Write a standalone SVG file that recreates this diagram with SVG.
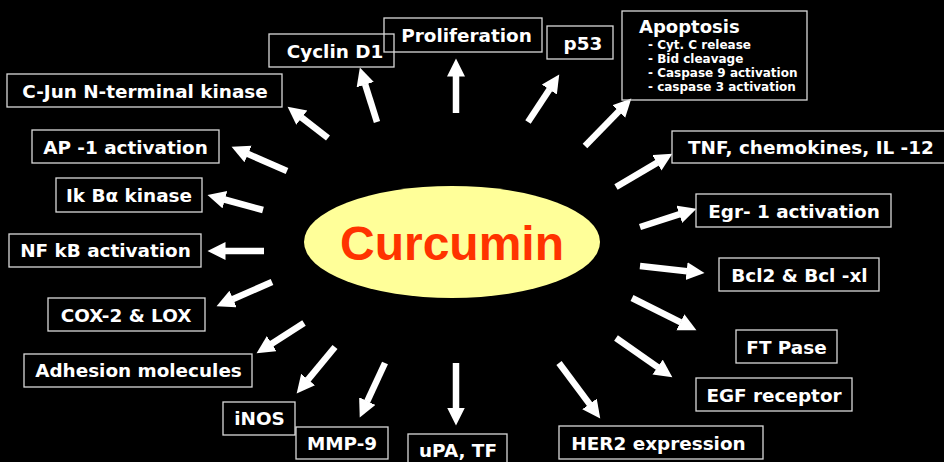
<svg xmlns="http://www.w3.org/2000/svg" width="944" height="462" viewBox="0 0 944 462">
<defs>
<style>
.box rect{fill:none;stroke:#d9d9d9;stroke-width:1.3}
.box text{font-family:"DejaVu Sans",Verdana,sans-serif;font-weight:bold;font-size:18.4px;fill:#ffffff;text-anchor:middle}
.box text.l{text-anchor:start}
.box text.s{font-size:12px;text-anchor:start}
.conn line{stroke:#ffffff;stroke-width:6.5;stroke-linecap:butt;marker-end:url(#ah)}
</style>
<marker id="ah" markerUnits="userSpaceOnUse" markerWidth="20" markerHeight="20" refX="0.5" refY="9" orient="auto">
<path d="M0,0 L18,9 L0,18 Z" fill="#ffffff"/>
</marker>
</defs>
<rect x="0" y="0" width="944" height="462" fill="#000000"/>

<g id="curcumin">
<ellipse cx="452" cy="242" rx="148" ry="56" fill="#ffff99"/>
<text x="452" y="260" font-family="'Liberation Sans',Arial,sans-serif" font-weight="bold" font-size="48" fill="#ff3300" text-anchor="middle">Curcumin</text>
</g>

<g class="conn" id="connectors">
<line x1="377" y1="122" x2="365.1" y2="84.2"/>
<line x1="456" y1="113" x2="456" y2="76"/>
<line x1="528" y1="122" x2="549.6" y2="89.2"/>
<line x1="585" y1="146" x2="619.1" y2="111.1"/>
<line x1="616" y1="187" x2="657.3" y2="162.6"/>
<line x1="640" y1="227" x2="679.8" y2="214.2"/>
<line x1="640" y1="266" x2="687.1" y2="271.2"/>
<line x1="632" y1="298" x2="680.8" y2="322.4"/>
<line x1="616" y1="338" x2="658" y2="367.3"/>
<line x1="559" y1="363" x2="589.8" y2="404.4"/>
<line x1="456" y1="363" x2="456" y2="408"/>
<line x1="385" y1="363" x2="367.1" y2="401.6"/>
<line x1="335" y1="347" x2="307.8" y2="379.9"/>
<line x1="304" y1="323" x2="271.3" y2="343.9"/>
<line x1="272" y1="282" x2="232.6" y2="299.2"/>
<line x1="264" y1="251" x2="225" y2="251"/>
<line x1="263" y1="210" x2="224.4" y2="199.5"/>
<line x1="287" y1="171" x2="247.6" y2="153.8"/>
<line x1="328" y1="138" x2="301.4" y2="117.4"/>
</g>

<g class="box" id="cyclin">
<rect x="269" y="34" width="125" height="33"/>
<text x="335" y="58">Cyclin D1</text>
</g>
<g class="box" id="proliferation">
<rect x="384" y="18" width="158" height="34"/>
<text x="466.5" y="42">Proliferation</text>
</g>
<g class="box" id="p53">
<rect x="547" y="26" width="66" height="33"/>
<text x="583" y="50">p53</text>
</g>
<g class="box" id="apoptosis">
<rect x="622" y="11" width="185" height="89"/>
<text class="l" x="639" y="33" style="font-size:18px">Apoptosis</text>
<text class="s" x="648" y="49">- Cyt. C release</text>
<text class="s" x="648" y="63">- Bid cleavage</text>
<text class="s" x="648" y="77">- Caspase 9 activation</text>
<text class="s" x="648" y="91">- caspase 3 activation</text>
</g>
<g class="box" id="tnf">
<rect x="672" y="131" width="290" height="32"/>
<text class="l" x="688" y="154">TNF, chemokines, IL -12</text>
</g>
<g class="box" id="egr1">
<rect x="696" y="194" width="195" height="33"/>
<text x="794" y="218">Egr- 1 activation</text>
</g>
<g class="box" id="bcl2">
<rect x="719" y="258" width="160" height="33"/>
<text x="799.5" y="282">Bcl2 &amp; Bcl -xl</text>
</g>
<g class="box" id="ftpase">
<rect x="736" y="330" width="101" height="33"/>
<text x="786.5" y="354">FT Pase</text>
</g>
<g class="box" id="egfr">
<rect x="696" y="378" width="156" height="33"/>
<text x="774" y="402">EGF receptor</text>
</g>
<g class="box" id="her2">
<rect x="559" y="426" width="204" height="33"/>
<text x="658.5" y="450">HER2 expression</text>
</g>
<g class="box" id="upa">
<rect x="408" y="434" width="99" height="40"/>
<text x="458" y="457">uPA, TF</text>
</g>
<g class="box" id="mmp9">
<rect x="296" y="427" width="92" height="32"/>
<text x="342" y="450">MMP-9</text>
</g>
<g class="box" id="inos">
<rect x="223" y="402" width="72" height="33"/>
<text x="259.5" y="425">iNOS</text>
</g>
<g class="box" id="adhesion">
<rect x="24" y="354" width="228" height="33"/>
<text x="138.5" y="377">Adhesion molecules</text>
</g>
<g class="box" id="cox2">
<rect x="48" y="298" width="157" height="33"/>
<text x="126" y="322">COX-2 &amp; LOX</text>
</g>
<g class="box" id="nfkb">
<rect x="9" y="234" width="192" height="33"/>
<text x="105.5" y="257">NF kB activation</text>
</g>
<g class="box" id="ikb">
<rect x="56" y="178" width="146" height="34"/>
<text x="129" y="202">Ik Bα kinase</text>
</g>
<g class="box" id="ap1">
<rect x="32" y="130" width="187" height="33"/>
<text x="125.5" y="154">AP -1 activation</text>
</g>
<g class="box" id="cjun">
<rect x="7" y="74" width="275" height="33"/>
<text x="145" y="97.5">C-Jun N-terminal kinase</text>
</g>
</svg>
